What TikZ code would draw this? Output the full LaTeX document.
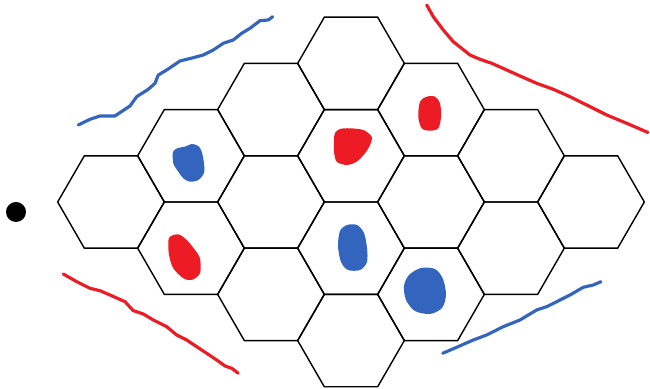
\documentclass[tikz,border=0pt]{standalone}
\usepackage{tikz}
\usetikzlibrary{shapes.geometric}
\definecolor{inkred}{RGB}{237,28,36}
\definecolor{inkblue}{RGB}{52,101,190}

\begin{document}
\begin{tikzpicture}[
    x=0.01cm, y=-0.01cm,
    cell/.style={regular polygon, regular polygon sides=6, minimum size=1.066cm, inner sep=0pt, draw=black, line width=0.4pt},
    stroke/.style={line width=0.9pt, line cap=round, line join=round},
    blob/.style={line join=round}
]
\useasboundingbox (0,0) rectangle (650,389);

% 4x4 board
\foreach \i in {0,...,3}
  \foreach \j in {0,...,3}
    \node[cell] (c\i\j) at ({111+80*(\i+\j)},{202+46.2*(\j-\i)}) {};

\node[circle, fill=black, inner sep=0pt, minimum size=0.2cm] (dot) at (16,212) {};

% stones
\fill[blob, inkblue] plot[smooth cycle] coordinates {(173,152) (178,148) (185,146.7) (191.7,144) (198.3,146) (201.7,151.7) (204,163) (204,173) (198.3,180) (190,181.7) (183.3,178.3) (178.3,171.7) (173.3,163.3)};
\fill[blob, inkred] plot[smooth cycle] coordinates {(335,133) (340,129) (350,128.3) (363.3,130) (371.7,136.7) (370,145) (365,153.3) (356.7,161.7) (346.7,165) (336.7,161.7) (334,151.7) (334,140)};
\fill[blob, inkred] plot[smooth cycle] coordinates {(420,101.7) (426.7,96.7) (435,96.7) (440,103.3) (441,116.7) (438.3,128.3) (430,130.7) (421.7,128.3) (418.3,116.7)};
\fill[blob, inkred] plot[smooth cycle] coordinates {(170,236.7) (178.3,234.3) (186.7,240) (195,250) (200,258.3) (200,273.3) (191.7,280) (183.3,278.3) (173.3,268.3) (169,255) (168.3,241.7)};
\fill[blob, inkblue] plot[smooth cycle] coordinates {(340,231) (347,225) (357,225) (364,233) (367,248) (367,262) (360,270) (348,270) (341,262) (338,246)};
\fill[blob, inkblue] plot[smooth cycle] coordinates {(409,275) (421,268) (435,269) (443,279) (446,295) (442,308) (430,314) (415,311) (406,300) (404,286)};

% edges
\draw[stroke, inkblue] plot coordinates {(78.3,125) (90,119.3) (100,116) (115,116) (130,106) (136.7,96.7) (148.3,89.3) (155,83.3) (158.3,75) (166.7,70) (180,61) (193.3,57.7) (203.3,55) (213.3,50) (223.3,43.3) (233.3,40) (241.7,33.3) (250,28.3) (260,20.7) (268.3,20) (272.7,16.7)};
\draw[stroke, inkred] plot coordinates {(426.7,5) (433.3,16.7) (443.3,30) (453.3,41.7) (470,55) (480,59.3) (491.7,63.3) (506.7,70) (520,76) (536.7,83.3) (553.3,89.3) (570,96.7) (586.7,105) (606.7,115) (626.7,123.3) (648,132.5)};
\draw[stroke, inkred] plot coordinates {(63.3,274) (76.7,281.7) (90,288.3) (100,290.7) (110,295) (125,301.7) (133.3,310.7) (143.3,314) (153.3,320) (166.7,326.7) (176.7,335) (186.7,340) (196.7,346.7) (206.7,353.3) (216.7,360) (225,366) (231.7,368.3) (238.3,373.3)};
\draw[stroke, inkblue] plot coordinates {(442.7,353.3) (456.7,347.3) (473.3,340) (486.7,335) (503.3,326.7) (520,320) (536.7,310) (546.7,306.7) (556.7,301.7) (570,295) (583.3,287.3) (593.3,285) (601,281.7)};
\end{tikzpicture}
\end{document}
